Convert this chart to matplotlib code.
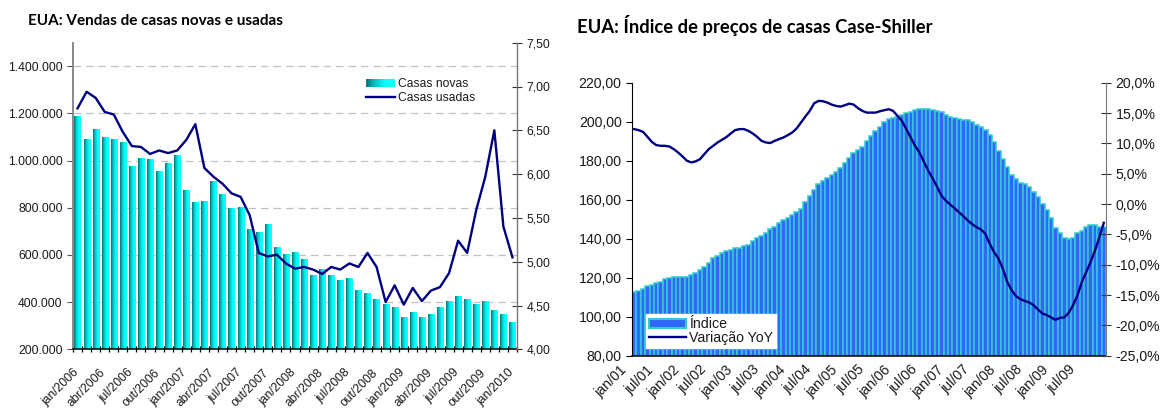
import matplotlib
matplotlib.use('Agg')
import matplotlib.pyplot as plt
import numpy as np
from matplotlib.patches import Rectangle, Patch
from matplotlib.lines import Line2D
from matplotlib.legend_handler import HandlerBase
from matplotlib.ticker import FuncFormatter, FixedLocator
from matplotlib.colors import LinearSegmentedColormap
from matplotlib.transforms import ScaledTranslation

plt.rcParams['font.family'] = ['Liberation Sans', 'DejaVu Sans']

# ---------------- data: left chart ----------------
meses_pt = ['jan', 'fev', 'mar', 'abr', 'mai', 'jun', 'jul', 'ago', 'set', 'out', 'nov', 'dez']
vendas_meses = [f"{meses_pt[m % 12]}/{2006 + m // 12}" for m in range(49)]  # jan/2006 .. jan/2010
casas_novas = [1185, 1088, 1130, 1097, 1088, 1075, 973, 1007, 1003, 952, 986, 1020,
               871, 820, 825, 909, 854, 796, 799, 706, 693, 727, 630, 600,
               609, 579, 511, 536, 511, 490, 498, 447, 436, 409, 388, 375,
               333, 354, 333, 346, 375, 400, 422, 409, 388, 400, 362, 346, 312]  # milhares
casas_usadas = [6.75, 6.94, 6.87, 6.71, 6.68, 6.48, 6.32, 6.31, 6.23, 6.27, 6.24, 6.27,
                6.39, 6.57, 6.07, 5.97, 5.89, 5.78, 5.74, 5.53, 5.10, 5.06, 5.08, 4.98,
                4.92, 4.94, 4.91, 4.86, 4.94, 4.91, 4.98, 4.94, 5.10, 4.94, 4.54, 4.73,
                4.51, 4.70, 4.55, 4.67, 4.71, 4.87, 5.24, 5.10, 5.59, 5.97, 6.50, 5.40, 5.05]  # milhões

# ---------------- data: right chart ----------------
cs_meses = [f"{meses_pt[m % 12]}/{(1 + m // 12):02d}" for m in range(108)]  # jan/01 .. dez/09
indice = [112.8, 113.3, 114.2, 115.6, 116.3, 117.3, 118.0, 119.2, 120.0, 120.5, 120.5, 120.5,
          120.5, 121.4, 122.6, 124.0, 125.6, 127.7, 130.0, 131.1, 132.5, 133.7, 134.4, 135.1,
          135.4, 136.1, 136.8, 138.8, 140.2, 141.5, 142.9, 145.0, 146.2, 148.2, 149.6, 150.8,
          152.2, 153.5, 155.2, 158.7, 161.9, 165.0, 167.9, 169.6, 171.0, 172.7, 174.1, 176.1,
          178.7, 181.5, 184.1, 185.6, 187.2, 190.1, 192.8, 195.2, 197.1, 199.7, 201.2, 202.1,
          202.6, 203.4, 204.3, 205.1, 205.8, 206.4, 206.4, 206.4, 205.8, 205.5, 204.8, 203.4,
          202.3, 201.7, 201.2, 200.7, 200.7, 199.7, 198.3, 197.1, 195.7, 193.2, 189.4, 185.0,
          180.9, 176.9, 172.7, 170.6, 168.4, 167.9, 166.5, 164.1, 161.5, 157.9, 154.7, 150.5,
          145.6, 142.8, 140.2, 139.7, 140.5, 142.8, 144.1, 146.2, 146.9, 146.9, 146.2, 146.2]
variacao_yoy = [12.35, 12.18, 11.9, 11.1, 10.26, 9.72, 9.6, 9.6, 9.49, 9.06, 8.5, 7.85,
                7.14, 6.86, 7.03, 7.4, 8.24, 9.06, 9.6, 10.15, 10.59, 11.03, 11.63, 12.18,
                12.35, 12.35, 12.07, 11.63, 11.08, 10.42, 10.15, 10.05, 10.42, 10.7, 10.97, 11.36,
                11.79, 12.45, 13.43, 14.42, 15.35, 16.6, 17.0, 16.95, 16.72, 16.39, 16.17, 16.06,
                16.29, 16.55, 16.39, 15.8, 15.35, 15.07, 15.07, 15.07, 15.3, 15.47, 15.63, 15.35,
                14.53, 13.71, 12.35, 10.97, 9.6, 8.5, 6.98, 5.5, 4.23, 2.87, 1.39, 0.57,
                -0.09, -0.69, -1.35, -2.0, -2.71, -3.32, -3.81, -4.19, -4.9, -6.54, -7.92, -9.0,
                -10.65, -12.85, -14.2, -15.19, -15.69, -15.97, -16.23, -16.67, -17.38, -18.04, -18.31, -18.69,
                -19.09, -18.76, -18.69, -17.94, -16.67, -15.03, -12.85, -11.2, -9.56, -7.64, -5.45, -3.09]

W, H = 1169, 409
fig = plt.figure(figsize=(W / 100, H / 100), dpi=100)
FS_L = 8.7
FS_R = 10.2
TXT = '#1a1a1a'

teal_cmap = LinearSegmentedColormap.from_list('teal', ['#007575', '#00c8c8', '#00ffff', '#10ffff'])


def fmt_thousands(v, pos):
    return f"{int(round(v)):,}".replace(',', '.')


def fmt_dec2(v, pos):
    return f"{v:.2f}".replace('.', ',')


def fmt_pct(v, pos):
    return f"{v:.1f}%".replace('.', ',')


def shift_labels(labels, dx_px, dy_px=0):
    off = ScaledTranslation(dx_px / 100, dy_px / 100, fig.dpi_scale_trans)
    for lb in labels:
        lb.set_transform(lb.get_transform() + off)


class GradientHandler(HandlerBase):
    def create_artists(self, legend, orig_handle, xdescent, ydescent, width, height, fontsize, trans):
        n = 16
        arts = []
        for k in range(n):
            r = Rectangle((-xdescent + k * width / n, -ydescent), width / n * 1.08, height,
                          facecolor=teal_cmap((k + 0.5) / n), edgecolor='none', transform=trans)
            arts.append(r)
        return arts


# ================= LEFT CHART =================
ax1 = fig.add_axes([73 / W, 1 - 349.3 / H, 444 / W, 306.6 / H])
x1 = np.arange(len(vendas_meses))
bw = 0.68
grad = np.linspace(0, 1, 64).reshape(1, -1)
vals_novas = np.array(casas_novas) * 1000
for xi, v in zip(x1, vals_novas):
    ax1.imshow(grad, extent=(xi - bw / 2, xi + bw / 2, 0, v), aspect='auto', cmap=teal_cmap,
               interpolation='bilinear', zorder=2)
ax1.set_xlim(-0.5, len(vendas_meses) - 0.5)
ax1.set_ylim(200000, 1500000)
ax1.yaxis.set_major_locator(FixedLocator(np.arange(200000, 1400001, 200000)))
ax1.yaxis.set_major_formatter(FuncFormatter(fmt_thousands))
ax1.grid(axis='y', color='#c0c0c0', linestyle=(0, (6, 4)), linewidth=0.9, zorder=1)
ax1.set_axisbelow(True)
ax1.set_xticks(x1[::3])
ax1.set_xticklabels(vendas_meses[::3], rotation=45, ha='right', rotation_mode='anchor', fontsize=FS_L, color=TXT)
ax1.set_xticks(np.arange(-0.5, len(vendas_meses), 1), minor=True)
ax1.tick_params(axis='x', which='major', length=0, pad=12.5)
ax1.tick_params(axis='x', which='minor', length=5, direction='inout', width=0.9, color='black')
ax1.tick_params(axis='y', labelsize=FS_L, labelcolor=TXT, length=4, color='#555555', direction='out')
shift_labels(ax1.get_xticklabels(), -5)
ax1.spines['top'].set_visible(False)
ax1.spines['right'].set_visible(False)
ax1.spines['left'].set_color('#888888')
ax1.spines['left'].set_linewidth(1.4)
ax1.spines['bottom'].set_color('black')
ax1.spines['bottom'].set_linewidth(1.1)

ax2 = ax1.twinx()
ax2.plot(x1, casas_usadas, color='#000080', linewidth=1.7, zorder=3, solid_joinstyle='round')
ax2.set_ylim(4.0, 7.5)
ax2.yaxis.set_major_locator(FixedLocator(np.arange(4.0, 7.51, 0.5)))
ax2.yaxis.set_major_formatter(FuncFormatter(fmt_dec2))
ax2.tick_params(axis='y', labelsize=FS_L, labelcolor=TXT, length=7, direction='inout', color='#333333')
for s in ['top', 'left', 'bottom']:
    ax2.spines[s].set_visible(False)
ax2.spines['right'].set_color('#777777')
ax2.spines['right'].set_linewidth(1.0)

leg1 = ax2.legend([Patch(), Line2D([], [], color='#000080', linewidth=1.7)],
                  ['Casas novas', 'Casas usadas'],
                  handler_map={Patch: GradientHandler()},
                  loc='upper left', bbox_to_anchor=(366 / W, 1 - 78 / H), bbox_transform=fig.transFigure,
                  frameon=False, fontsize=FS_L, borderpad=0, borderaxespad=0,
                  handlelength=2.4, handletextpad=0.25, labelspacing=0.2, handleheight=0.7)
for t in leg1.get_texts():
    t.set_color(TXT)

fig.text(28 / W, 1 - 21 / H, 'EUA: Vendas de casas novas e usadas', fontsize=11.0, fontweight='bold',
         family=['Lato', 'DejaVu Sans'], va='center', ha='left', color='black')

# ================= RIGHT CHART =================
ax3 = fig.add_axes([632 / W, 1 - 355.7 / H, 474 / W, 273 / H])
x3 = np.arange(len(cs_meses))
ax3.bar(x3, indice, width=1.0, color='#3366FF', edgecolor='#33CCCC', linewidth=1.1, zorder=2)
ax3.set_xlim(-0.5, len(cs_meses) - 0.5)
ax3.set_ylim(80, 220)
ax3.yaxis.set_major_locator(FixedLocator(np.arange(80, 221, 20)))
ax3.yaxis.set_major_formatter(FuncFormatter(fmt_dec2))
ax3.set_xticks(x3[::6])
ax3.set_xticklabels(cs_meses[::6], rotation=45, ha='right', rotation_mode='anchor', fontsize=FS_R, color=TXT)
ax3.tick_params(axis='x', length=0, pad=5)
ax3.tick_params(axis='y', labelsize=FS_R, labelcolor=TXT, length=4, direction='out', color='black')
shift_labels(ax3.get_xticklabels(), -14)
ax3.spines['top'].set_visible(False)
ax3.spines['right'].set_visible(False)
ax3.spines['left'].set_color('black')
ax3.spines['bottom'].set_color('black')
ax3.spines['bottom'].set_linewidth(1.1)

ax4 = ax3.twinx()
ax4.plot(x3, variacao_yoy, color='#000080', linewidth=1.7, zorder=3, solid_joinstyle='round')
ax4.set_ylim(-25, 20)
ax4.yaxis.set_major_locator(FixedLocator(np.arange(-25, 20.1, 5)))
ax4.yaxis.set_major_formatter(FuncFormatter(fmt_pct))
ax4.tick_params(axis='y', labelsize=FS_R, labelcolor=TXT, length=7, direction='inout', color='#333333')
for s in ['top', 'left', 'bottom']:
    ax4.spines[s].set_visible(False)
ax4.spines['right'].set_color('#777777')

leg2 = ax4.legend([Patch(facecolor='#3366FF', edgecolor='#33CCCC', linewidth=1.5),
                   Line2D([], [], color='#000080', linewidth=1.7)],
                  ['Índice', 'Variação YoY'],
                  loc='lower left', bbox_to_anchor=(646 / W, 1 - 348 / H), bbox_transform=fig.transFigure,
                  frameon=True, fancybox=False, framealpha=1, facecolor='white', edgecolor='white',
                  fontsize=FS_R, borderpad=0.2, borderaxespad=0,
                  handlelength=2.6, handletextpad=0.25, labelspacing=0.0, handleheight=0.6)
for t in leg2.get_texts():
    t.set_color(TXT)

fig.text(577 / W, 1 - 26 / H, 'EUA: Índice de preços de casas Case-Shiller', fontsize=13.2, fontweight='bold',
         family=['Lato', 'DejaVu Sans'], va='center', ha='left', color='black')

fig.savefig('out.png', dpi=100)
